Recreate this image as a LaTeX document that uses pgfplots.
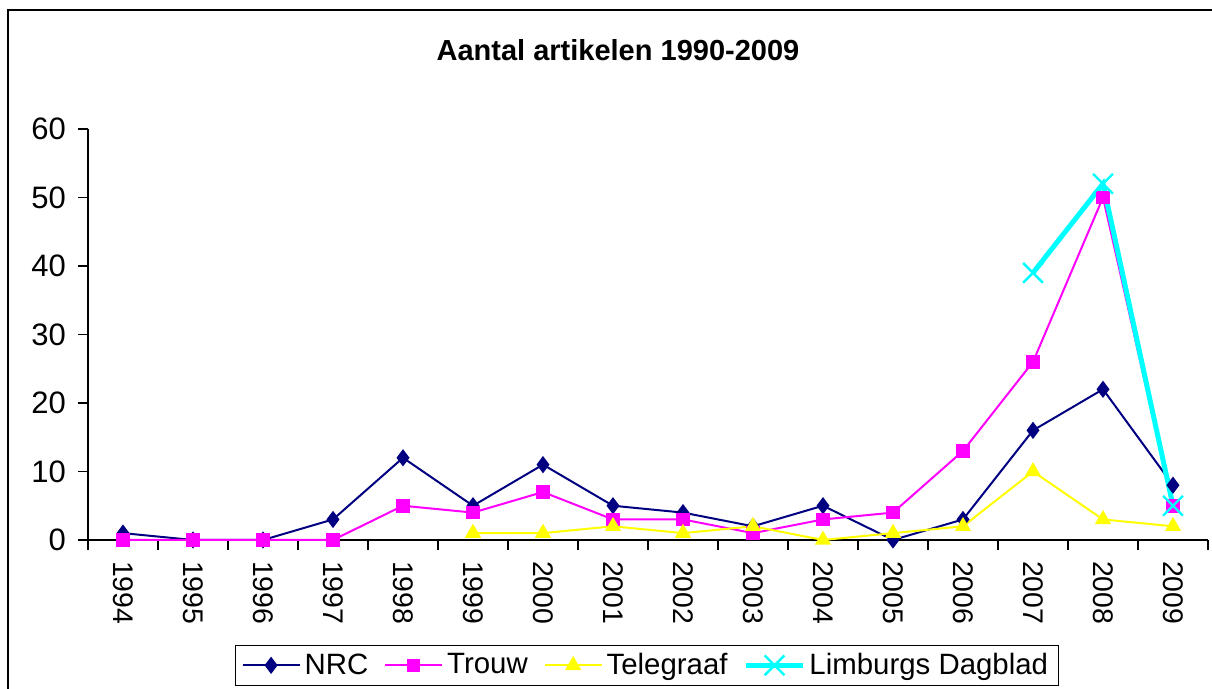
\documentclass[border=0pt]{standalone}
\usepackage{pgfplots}
\pgfplotsset{compat=1.18}
\usepackage{fontspec}
\setmainfont{Liberation Sans}
\definecolor{nrc}{RGB}{0,0,128}
\definecolor{trouw}{RGB}{255,0,255}
\definecolor{tele}{RGB}{255,255,0}
\definecolor{limb}{RGB}{0,255,255}
\begin{document}
\begin{tikzpicture}
\useasboundingbox (0pt,0pt) rectangle (606pt,344.5pt);
\draw[black, line width=0.6pt] (4pt,-20pt) rectangle (640pt,339.5pt);
\node[font=\fontsize{14.5}{17}\selectfont\bfseries] at (309pt,319.5pt) {Aantal artikelen 1990-2009};
\begin{axis}[
  at={(44pt,74.5pt)}, anchor=south west,
  scale only axis, width=560pt, height=205.5pt,
  xmin=-0.5, xmax=15.5, ymin=0, ymax=60,
  axis lines=left, axis line style={-, black, line width=0.6pt},
  clip=false,
  xtick={0,...,15},
  xticklabels={1994,1995,1996,1997,1998,1999,2000,2001,2002,2003,2004,2005,2006,2007,2008,2009},
  major x tick style={draw=none},
  minor xtick={-0.5,0.5,...,15.5},
  minor x tick style={black, line width=0.6pt},
  minor tick length=5pt,
  ytick={0,10,...,60},
  yticklabel={\fontsize{15.5}{18}\selectfont\pgfmathprintnumber{\tick}},
  major tick length=5pt,
  tick align=outside,
  y tick style={black, line width=0.6pt},
  /pgf/number format/assume math mode=true,
  x tick label style={rotate=-90, anchor=west, font=\fontsize{14.2}{16}\selectfont},
  xticklabel shift=2pt,
  yticklabel shift=2.5pt,
  legend columns=4,
  legend style={at={(0.499,-0.305)}, anchor=center, draw=black, line width=0.6pt,
    font=\fontsize{14.7}{17}\selectfont, /tikz/every even column/.append style={column sep=6pt},
    inner ysep=2pt},
  legend image code/.code={\draw[mark repeat=2,mark phase=2,#1] plot coordinates {(0cm,0cm) (0.5cm,0cm) (1.0cm,0cm)};},
]
\addplot[color=nrc, line width=1pt, mark=diamond*, mark size=3.5pt, mark options={solid}]
  coordinates {(0,1)(1,0)(2,0)(3,3)(4,12)(5,5)(6,11)(7,5)(8,4)(9,2)(10,5)(11,0)(12,3)(13,16)(14,22)(15,8)};
\addlegendentry{NRC}
\addplot[color=trouw, line width=1pt, mark=square*, mark size=2.9pt, mark options={solid}]
  coordinates {(0,0)(1,0)(2,0)(3,0)(4,5)(5,4)(6,7)(7,3)(8,3)(9,1)(10,3)(11,4)(12,13)(13,26)(14,50)(15,5)};
\addlegendentry{Trouw}
\addplot[color=tele, line width=1pt, mark=triangle*, mark size=3.7pt, mark options={solid}]
  coordinates {(5,1)(6,1)(7,2)(8,1)(9,2)(10,0)(11,1)(12,2)(13,10)(14,3)(15,2)};
\addlegendentry{Telegraaf}
\addplot[color=limb, line width=2.5pt, mark=x, mark size=7pt, mark options={solid, line width=1.2pt}]
  coordinates {(13,39)(14,52)(15,5)};
\addlegendentry{Limburgs Dagblad}
\end{axis}
\end{tikzpicture}
\end{document}
